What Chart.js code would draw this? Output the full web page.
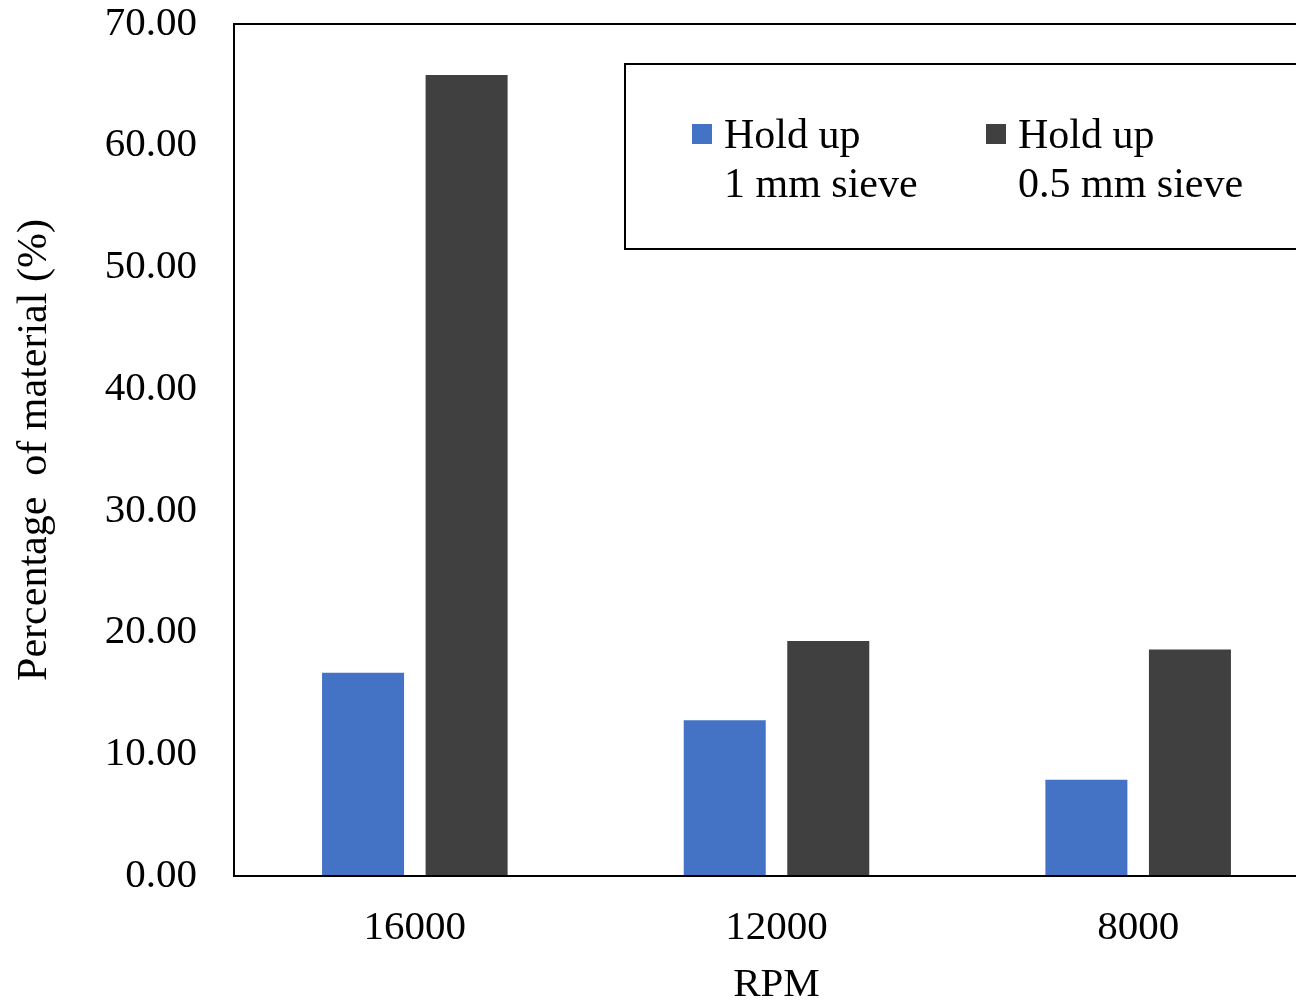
<!DOCTYPE html>
<html>
<head>
<meta charset="utf-8">
<script src="https://cdn.jsdelivr.net/npm/chart.js@4.4.0/dist/chart.umd.min.js"></script>
<style>
  html, body { margin: 0; padding: 0; background: #fff; overflow: hidden; }
  canvas { display: block; }
</style>
</head>
<body>
<canvas id="chart" width="1319" height="1002"></canvas>
<script>
const rpmLabels = ['16000', '12000', '8000'];
const seriesNames = [['Hold up', '1 mm sieve'], ['Hold up', '0.5 mm sieve']];
const holdUp1mm = [16.7, 12.8, 7.9];
const holdUp05mm = [65.8, 19.3, 18.6];
const seriesColors = ['#4472C4', '#404040'];

const FONT = 'Liberation Serif, Times New Roman, serif';

const frameAndLegend = {
  id: 'frameAndLegend',
  afterDraw(chart, args, options) {
    const {ctx, chartArea: {left, top, right, bottom}} = chart;
    ctx.save();
    ctx.strokeStyle = '#000';
    ctx.lineWidth = 2;
    ctx.strokeRect(left, top, right - left, bottom - top);

    // legend box
    ctx.strokeRect(625, 64, 800, 185);
    ctx.font = '42px ' + FONT;
    ctx.textBaseline = 'alphabetic';
    ctx.textAlign = 'left';
    chart.data.datasets.forEach((ds, i) => {
      let x = 692 + i * 294;
      ctx.fillStyle = ds.backgroundColor;
      ctx.fillRect(x, 124, 20, 20);
      ctx.fillStyle = '#000';
      ds.label.forEach((line, j) => {
        ctx.fillText(line, x + 32, 148 + j * 49);
      });
    });
    ctx.restore();
  }
};

new Chart(document.getElementById('chart'), {
  type: 'bar',
  data: {
    labels: rpmLabels,
    datasets: [
      { label: seriesNames[0], data: holdUp1mm, backgroundColor: seriesColors[0] },
      { label: seriesNames[1], data: holdUp05mm, backgroundColor: seriesColors[1] }
    ]
  },
  options: {
    responsive: false,
    animation: false,
    categoryPercentage: 0.5726,
    barPercentage: 0.792,
    layout: { padding: { top: 24, right: 0, left: 0, bottom: 0 } },
    scales: {
      x: {
        grid: { display: false, drawTicks: false },
        border: { display: false },
        afterFit(scale) { scale.height = 126; scale.paddingLeft = 0; scale.paddingRight = 0; },
        ticks: {
          color: '#000',
          padding: 28,
          font: { size: 41, family: FONT }
        },
        title: {
          display: true,
          text: 'RPM',
          color: '#000',
          padding: { top: 0, bottom: -8 },
          font: { size: 41, family: FONT }
        }
      },
      y: {
        min: 0,
        max: 70,
        grid: { display: false, drawTicks: false },
        border: { display: false },
        afterFit(scale) { scale.width = 234; scale.paddingTop = 0; scale.paddingBottom = 0; },
        ticks: {
          stepSize: 10,
          color: '#000',
          padding: 37,
          font: { size: 41, family: FONT },
          callback: (v) => Number(v).toFixed(2)
        },
        title: {
          display: true,
          text: 'Percentage  of material (%)',
          color: '#000',
          padding: { top: 10, bottom: 0 },
          font: { size: 42, family: FONT }
        }
      }
    },
    plugins: {
      legend: { display: false },
      tooltip: { enabled: false }
    }
  },
  plugins: [frameAndLegend]
});
</script>
</body>
</html>
